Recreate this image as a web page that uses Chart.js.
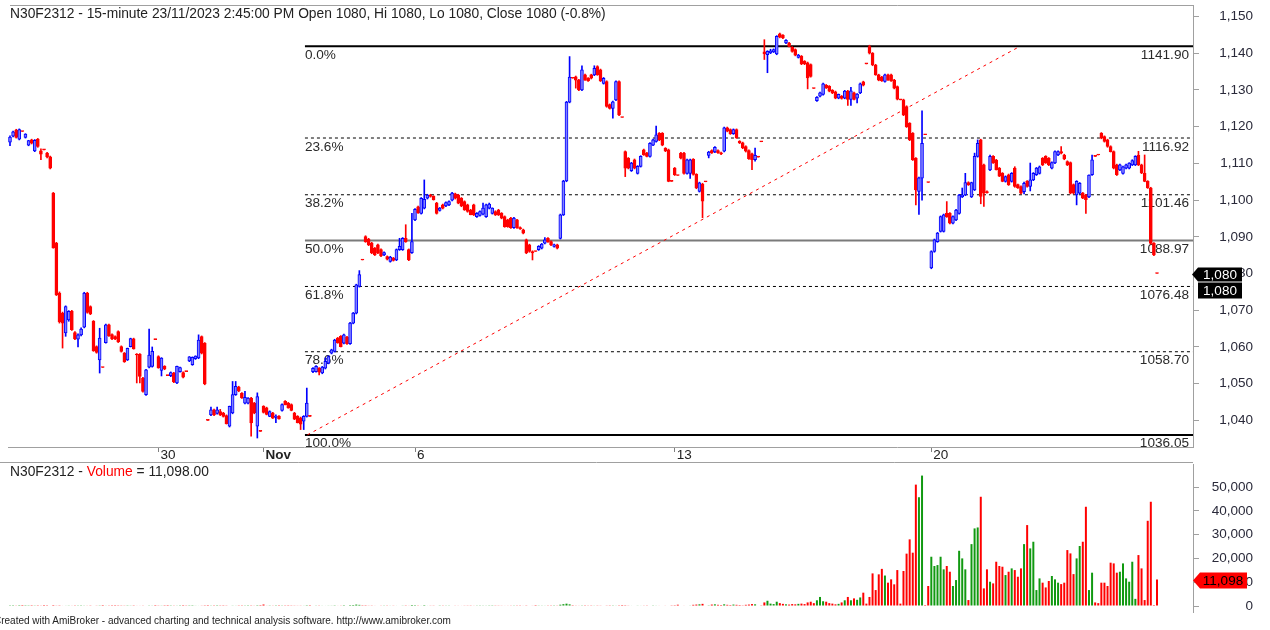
<!DOCTYPE html>
<html><head><meta charset="utf-8">
<script src="https://cdn.jsdelivr.net/npm/chart.js@4.4.1/dist/chart.umd.min.js"></script>
<style>
html,body{margin:0;padding:0;background:#fff;}
body{width:1270px;height:630px;position:relative;overflow:hidden;font-family:'Liberation Sans',Arial,sans-serif;}
.txt{position:absolute;white-space:nowrap;color:#222;font-size:13.8px;line-height:15px;z-index:2;}
#pw{position:absolute;left:0;top:0;width:1270px;height:463px;}
#vw{position:absolute;left:0;top:463px;width:1270px;height:167px;}
</style></head><body>
<div id="pw"><canvas id="pc" width="1270" height="463"></canvas></div>
<div id="vw"><canvas id="vc" width="1270" height="167"></canvas></div>
<div class="txt" style="left:10px;top:6px">N30F2312 - 15-minute 23/11/2023 2:45:00 PM Open 1080, Hi 1080, Lo 1080, Close 1080 (-0.8%)</div>
<div class="txt" style="left:10px;top:464px">N30F2312 - <span style="color:#ff0000">Volume</span> = 11,098.00</div>
<div class="txt" style="left:-6px;top:615px;font-size:10px;line-height:12px">Created with AmiBroker - advanced charting and technical analysis software. http://www.amibroker.com</div>
<script>
// ---------------- DATA ----------------
const open = [
1115.8,1117.4,1119.1,1116.6,1118.7,1117.1,1115.0,1116.4,1113.4,1116.6,1113.4,1113.7,1112.8,1111.8,
1101.9,1088.3,1074.7,1069.2,1063.8,1067.4,1069.7,1063.9,1062.1,1063.3,
1065.4,1074.7,1071.0,1067.0,1060.1,1056.5,1054.4,1061.2,1066.0,1063.4,
1062.8,1064.2,1060.1,1058.3,1056.5,1060.1,1062.2,1058.0,1058.0,1051.5,
1047.0,1054.5,1054.7,1062.0,1057.4,1053.6,1054.7,1052.2,1052.2,1052.9,
1050.2,1053.3,1053.0,1053.3,1056.2,1055.2,1056.8,1057.0,1062.8,1061.0,
1040.0,1041.5,1042.9,1041.9,1042.4,1042.0,1041.3,1038.4,1042.0,1047.0,
1049.1,1047.4,1044.7,1044.7,1046.1,1044.7,1038.4,1037.0,1043.8,1043.4,
1041.1,1042.0,1040.8,1041.2,1042.7,1045.2,1044.7,1044.3,1042.0,1041.1,
1040.7,1039.8,1041.1,1041.1,
1053.3,1053.3,1054.2,1052.9,1054.2,1055.6,1058.3,1058.8,1062.4,1062.9,
1061.0,1062.7,1060.9,1066.5,1069.2,1076.5,1083.7,1090.1,1089.4,1088.3,
1086.9,1087.8,1086.5,1085.1,1084.6,1083.3,1084.2,1083.7,1086.5,1086.5,
1089.6,1086.5,
1085.7,1094.6,1098.2,1096.4,1097.8,1100.5,1101.4,1101.0,1099.2,1097.2,
1098.7,1098.4,1098.7,1100.0,1101.7,1101.4,1100.5,1099.6,1098.7,1097.3,
1098.7,1095.5,1095.8,1096.2,1095.5,1097.8,1096.4,1096.9,1097.3,1096.4,
1095.5,1094.6,1095.1,1092.5,1094.6,1092.5,1091.9,1089.2,1087.8,1086.0,
1086.0,1086.5,1086.9,1088.3,1089.6,1088.7,1087.4,1087.8,1089.6,1096.0,
1105.2,1126.7,1133.2,1133.6,1132.7,1130.0,1134.1,1133.2,1134.1,1134.1,
1136.4,1135.5,1131.8,1132.3,1126.0,1125.0,1127.3,1132.3,1122.5,1113.2,
1111.4,1108.0,1111.0,1107.3,1109.2,1113.7,1112.8,1111.9,1115.0,1116.0,
1118.2,1118.2,1114.1,1113.7,1105.1,1108.7,1106.7,1112.8,1112.8,1107.3,
1107.3,
1111.1,1107.0,1102.4,1104.4,1105.0,1112.2,1113.5,1113.1,1113.5,1112.9,
1113.3,1119.7,1119.2,1118.1,1119.2,1116.0,1115.6,1114.6,1113.5,1112.6,
1111.0,1111.7,1115.9,1140.4,1139.6,1140.1,1140.4,1139.8,1145.3,1144.9,
1142.8,1142.8,1141.6,1141.0,1138.9,1139.2,1137.8,1137.4,1136.9,1130.4,
1127.1,1128.3,1128.8,1131.3,1131.0,1129.9,1129.5,1127.8,1128.3,1127.8,
1129.7,1127.4,1129.2,1127.8,1129.2,1132.2,1137.1,
1141.8,1140.0,1136.8,1134.1,1133.5,1132.3,1134.1,1134.1,1132.7,1130.9,
1127.3,1127.3,1125.5,1120.9,1118.2,1111.4,1102.4,1106.0,1117.8,1104.8,
1081.5,1086.0,1088.7,1091.5,1091.5,1096.4,1096.4,1093.7,1094.6,1096.4,
1100.9,1101.4,1104.8,1100.9,1102.8,1111.9,1116.4,1109.6,1102.3,1108.2,
1111.9,1110.9,1108.7,1107.3,1105.1,1106.9,1105.1,1108.7,1104.2,1103.7,
1102.3,1105.1,1103.7,1105.5,1106.9,1107.3,1111.4,1111.9,1111.4,1108.7,
1110.1,1112.3,1113.2,1112.3,1110.5,1110.2,1104.2,1101.4,1101.9,1101.9,
1101.4,1100.9,1106.9,1111.9,1112.3,1118.2,1117.3,1116.4,1114.6,1113.2,
1109.6,1108.2,1107.3,1108.7,1108.7,1109.6,1109.6,1112.3,1109.6,1107.3,
1105.1,1103.3,1088.2,1080.0];
const high = [
1117.5,1118.8,1119.3,1119.4,1118.7,1118.1,1116.3,1116.6,1116.5,1116.8,1114.0,1113.7,1113.0,1112.0,
1102.1,1088.5,1075.0,1069.5,1071.2,1069.9,1070.0,1064.2,1063.6,1065.2,
1074.9,1074.9,1071.2,1067.2,1060.3,1065.1,1054.4,1066.2,1066.2,1063.6,
1063.0,1064.4,1060.3,1058.5,1059.7,1062.4,1062.4,1058.2,1058.2,1051.7,
1053.9,1064.9,1060.0,1062.0,1057.6,1057.1,1054.9,1052.2,1053.2,1053.1,
1054.8,1054.5,1053.2,1053.3,1057.4,1057.3,1057.6,1063.3,1063.0,1061.2,
1040.0,1043.6,1043.1,1043.6,1043.0,1042.2,1041.5,1043.9,1050.6,1050.6,
1049.3,1047.6,1047.9,1046.2,1046.3,1044.9,1047.5,1037.0,1044.0,1043.6,
1042.6,1042.2,1041.5,1041.3,1044.5,1045.4,1044.9,1044.5,1042.2,1041.3,
1040.9,1041.3,1048.8,1041.1,
1054.4,1054.9,1054.4,1054.7,1057.0,1057.6,1059.4,1062.1,1062.6,1063.1,
1063.5,1062.9,1066.7,1069.4,1077.1,1080.8,1083.7,1090.3,1089.6,1088.5,
1087.1,1088.0,1086.7,1085.9,1084.8,1084.7,1084.4,1086.7,1089.6,1089.8,
1093.3,1086.7,
1096.4,1097.7,1098.4,1100.7,1105.5,1101.6,1101.6,1101.2,1099.4,1098.0,
1098.9,1099.5,1099.8,1102.1,1101.9,1101.6,1100.7,1099.8,1098.9,1097.5,
1098.9,1096.6,1097.1,1099.2,1098.9,1099.2,1097.9,1097.1,1097.5,1096.6,
1095.7,1094.8,1095.3,1095.3,1094.8,1092.7,1092.1,1089.4,1088.0,1086.2,
1086.0,1087.6,1088.2,1089.8,1089.8,1088.9,1088.0,1088.0,1096.2,1105.4,
1126.9,1139.1,1133.2,1133.8,1132.9,1136.6,1134.3,1133.4,1134.3,1136.6,
1136.6,1135.7,1133.4,1132.5,1126.2,1127.0,1132.5,1132.5,1122.5,1113.4,
1111.6,1110.3,1111.2,1109.4,1112.1,1113.9,1113.0,1115.7,1116.6,1120.2,
1118.4,1118.4,1114.3,1113.9,1105.1,1108.9,1106.7,1113.0,1113.0,1111.2,
1111.2,
1111.3,1107.2,1104.9,1104.6,1105.0,1113.3,1113.7,1114.6,1113.7,1113.1,
1119.9,1119.9,1119.4,1119.4,1119.4,1116.2,1115.8,1114.8,1113.7,1112.8,
1114.2,1111.7,1115.9,1143.7,1140.7,1141.1,1141.2,1144.8,1145.5,1145.1,
1143.7,1143.0,1141.8,1141.2,1139.7,1139.4,1138.0,1137.6,1137.1,1130.4,
1128.2,1129.4,1131.9,1131.5,1131.2,1130.1,1129.7,1128.9,1128.5,1129.9,
1129.9,1130.7,1129.4,1129.0,1131.9,1132.4,1137.1,
1142.2,1140.2,1137.0,1134.3,1133.7,1134.3,1134.3,1134.3,1132.9,1131.1,
1127.3,1127.5,1125.7,1121.1,1118.4,1111.6,1106.3,1124.3,1117.8,1104.8,
1086.2,1089.4,1091.2,1095.7,1096.2,1099.6,1096.6,1095.7,1097.5,1101.6,
1103.3,1107.3,1105.0,1104.9,1112.8,1116.4,1116.6,1109.8,1102.5,1112.3,
1112.1,1111.1,1108.9,1107.5,1106.6,1107.1,1107.5,1109.1,1104.4,1103.9,
1104.9,1105.3,1110.1,1107.5,1108.9,1109.3,1111.6,1112.1,1111.6,1110.4,
1113.4,1113.4,1114.6,1112.5,1110.7,1110.4,1104.4,1105.3,1104.8,1102.1,
1101.6,1106.9,1112.3,1111.9,1112.3,1118.4,1117.5,1116.6,1114.8,1113.4,
1109.8,1109.8,1109.3,1109.8,1110.2,1111.0,1112.1,1113.3,1109.8,1112.3,
1105.3,1103.5,1088.4,1080.0];
const low = [
1114.8,1117.2,1116.9,1116.4,1118.7,1116.9,1114.8,1115.3,1113.2,1114.4,1111.0,1113.7,1111.5,1108.5,
1086.9,1074.0,1066.5,1059.7,1062.9,1067.0,1064.5,1062.0,1060.0,1063.0,
1065.2,1069.2,1068.8,1058.8,1058.3,1052.9,1054.4,1061.0,1062.9,1062.0,
1062.0,1061.2,1058.6,1055.8,1056.3,1060.0,1059.4,1050.2,1050.2,1047.7,
1046.8,1054.3,1054.5,1062.0,1054.2,1052.1,1053.8,1052.2,1051.9,1050.3,
1050.0,1053.1,1051.6,1053.3,1056.0,1055.0,1056.6,1056.8,1058.1,1049.7,
1040.0,1041.3,1041.3,1041.7,1041.3,1040.9,1039.0,1038.2,1041.8,1046.8,
1047.8,1046.0,1044.5,1044.5,1035.7,1041.8,1035.2,1037.0,1042.0,1041.5,
1041.0,1040.5,1039.4,1040.3,1042.5,1044.2,1043.3,1042.6,1040.2,1039.3,
1037.5,1037.5,1040.9,1041.1,
1053.0,1053.1,1052.4,1052.7,1054.0,1055.4,1058.1,1058.6,1061.0,1060.0,
1060.8,1060.7,1060.7,1066.3,1069.0,1076.3,1083.7,1088.5,1087.6,1085.4,
1084.9,1085.4,1084.6,1084.9,1083.7,1083.1,1083.4,1083.5,1086.3,1086.3,
1088.5,1083.5,
1085.5,1094.4,1096.4,1096.2,1097.6,1100.3,1100.8,1100.0,1096.2,1097.0,
1097.6,1098.2,1098.5,1099.8,1100.3,1099.0,1098.2,1097.2,1096.7,1096.0,
1095.8,1095.3,1095.6,1096.0,1095.3,1097.6,1096.2,1095.8,1095.8,1094.9,
1092.6,1092.6,1092.3,1092.3,1092.3,1092.0,1090.8,1085.4,1085.8,1083.7,
1086.0,1086.3,1086.7,1088.1,1088.5,1087.6,1087.2,1086.7,1089.4,1095.8,
1105.0,1126.5,1133.2,1130.5,1129.8,1129.8,1132.6,1132.3,1133.0,1133.9,
1134.0,1132.3,1131.6,1125.3,1124.8,1122.3,1127.1,1123.0,1122.5,1106.4,
1108.5,1107.8,1108.5,1107.1,1109.0,1112.2,1111.8,1111.7,1114.8,1115.8,
1116.2,1114.8,1113.2,1105.0,1105.1,1106.7,1106.7,1111.2,1107.1,1107.1,
1105.9,
1106.8,1103.1,1102.2,1095.2,1105.0,1111.5,1112.7,1112.9,1112.7,1112.4,
1113.1,1118.6,1117.9,1117.9,1116.8,1115.4,1114.0,1113.1,1111.1,1108.3,
1110.6,1111.7,1115.9,1138.3,1134.7,1139.9,1140.2,1139.6,1144.2,1144.0,
1142.6,1141.7,1140.3,1139.3,1138.7,1136.9,1136.9,1130.3,1133.5,1130.4,
1126.9,1128.1,1128.6,1130.4,1129.5,1129.0,1127.6,1127.6,1127.5,1127.6,
1125.8,1125.8,1127.3,1126.5,1129.0,1131.1,1137.1,
1139.8,1136.6,1134.0,1132.5,1132.3,1132.1,1132.6,1132.3,1130.3,1127.3,
1127.3,1123.0,1119.8,1116.2,1110.8,1098.7,1096.1,1100.0,1117.8,1104.8,
1081.3,1085.8,1088.5,1091.3,1091.3,1095.3,1093.5,1093.5,1094.4,1096.2,
1100.7,1101.2,1104.0,1100.7,1102.6,1111.7,1099.0,1098.3,1101.9,1108.0,
1110.0,1108.2,1106.4,1105.0,1104.9,1104.0,1104.9,1103.5,1103.2,1101.7,
1101.7,1103.5,1102.5,1105.3,1106.7,1107.1,1109.4,1110.0,1109.4,1108.5,
1109.9,1112.1,1112.6,1111.0,1109.4,1101.7,1101.7,1098.7,1101.7,1100.4,
1096.4,1100.7,1106.7,1111.9,1112.3,1116.7,1115.8,1114.4,1113.1,1108.5,
1106.7,1108.0,1107.1,1108.5,1108.5,1109.4,1109.4,1109.4,1107.2,1105.0,
1103.2,1088.0,1084.9,1080.0];
const close = [
1117.2,1118.6,1117.1,1119.2,1118.7,1118.0,1116.2,1115.5,1116.3,1114.6,1112.5,1113.7,1111.8,1108.7,
1087.0,1074.2,1066.8,1066.5,1071.0,1069.7,1064.7,1062.2,1063.3,1064.9,
1074.7,1069.4,1069.0,1059.0,1058.5,1062.4,1054.4,1066.0,1063.1,1062.2,
1062.2,1061.4,1058.8,1056.0,1059.6,1062.3,1059.5,1057.8,1052.0,1047.9,
1053.8,1057.8,1058.8,1062.0,1054.3,1057.0,1054.0,1052.2,1053.0,1050.5,
1054.7,1054.4,1051.8,1053.3,1057.3,1057.2,1057.5,1061.9,1058.3,1049.9,
1040.0,1042.9,1041.5,1042.9,1041.5,1041.1,1039.1,1043.8,1047.0,1049.3,
1048.0,1046.1,1046.3,1046.1,1039.3,1042.0,1046.5,1037.0,1042.2,1041.6,
1042.4,1040.6,1041.2,1040.4,1044.3,1044.3,1043.4,1042.7,1040.3,1039.4,
1039.0,1041.1,1044.7,1041.1,
1054.2,1054.7,1053.1,1054.5,1056.1,1057.4,1059.2,1061.9,1061.2,1060.1,
1063.3,1060.9,1066.5,1069.2,1076.9,1079.7,1083.7,1088.7,1087.8,1085.6,
1085.1,1085.6,1084.8,1085.7,1083.9,1084.5,1083.6,1086.5,1087.4,1089.6,
1088.7,1083.7,
1088.7,1097.5,1096.6,1100.5,1100.2,1101.4,1101.0,1100.1,1096.4,1097.8,
1097.8,1099.3,1099.6,1101.9,1100.5,1099.2,1098.4,1097.3,1096.9,1096.0,
1096.0,1096.4,1096.9,1097.8,1098.7,1098.9,1097.8,1096.0,1096.0,1095.1,
1092.8,1092.8,1092.5,1095.1,1092.5,1092.2,1091.0,1085.6,1086.0,1085.6,
1086.0,1087.4,1088.0,1089.2,1088.7,1087.8,1087.8,1086.9,1096.0,1105.2,
1126.7,1133.5,1133.2,1132.7,1130.0,1135.5,1132.7,1132.5,1133.2,1135.9,
1134.1,1132.5,1133.2,1125.5,1125.0,1126.8,1132.3,1123.2,1122.5,1108.7,
1108.7,1110.1,1108.7,1109.2,1111.9,1112.3,1111.9,1115.5,1116.4,1117.8,
1116.4,1115.0,1113.4,1105.1,1105.1,1106.9,1106.7,1111.4,1107.3,1111.0,
1111.0,
1107.0,1103.3,1104.7,1099.7,1105.0,1113.1,1112.9,1114.4,1112.9,1112.6,
1119.7,1118.8,1118.1,1119.2,1117.0,1115.6,1114.2,1113.3,1111.3,1111.0,
1112.2,1111.7,1115.9,1139.8,1140.5,1140.7,1141.0,1144.6,1144.4,1144.2,
1143.5,1141.9,1140.5,1139.5,1139.5,1137.1,1137.1,1133.3,1133.7,1130.4,
1128.0,1129.2,1131.7,1130.6,1129.7,1129.2,1127.8,1128.8,1127.7,1129.7,
1127.4,1129.8,1127.4,1128.9,1131.7,1131.3,1137.1,
1140.0,1136.8,1134.1,1132.7,1132.5,1134.1,1132.7,1132.5,1130.5,1127.5,
1127.3,1123.2,1120.0,1116.4,1111.0,1102.8,1106.1,1115.5,1117.8,1104.8,
1086.0,1089.2,1091.0,1095.5,1096.0,1095.5,1093.7,1095.5,1097.3,1101.4,
1101.4,1104.8,1104.2,1104.8,1111.9,1115.5,1101.0,1101.9,1102.0,1111.9,
1110.1,1108.3,1106.5,1105.1,1106.4,1104.2,1107.3,1103.7,1103.3,1101.9,
1104.6,1103.7,1105.5,1107.3,1108.7,1109.1,1109.6,1110.1,1109.6,1110.2,
1113.2,1113.2,1112.8,1111.2,1109.6,1101.9,1101.9,1105.1,1104.6,1100.5,
1100.1,1106.8,1111.0,1111.9,1112.3,1116.9,1116.0,1114.6,1113.2,1108.7,
1106.9,1109.6,1109.1,1109.6,1110.1,1110.8,1111.9,1109.6,1107.4,1105.1,
1103.3,1088.2,1085.1,1080.0];
const volume = [
120,80,150,60,30,90,110,70,140,100,160,40,90,210,
380,260,310,190,240,150,180,120,140,110,260,170,130,220,160,290,40,180,140,90,
70,110,130,150,120,160,110,230,190,260,210,280,170,50,140,160,90,60,120,150,
170,110,60,130,110,90,180,230,160,320,
60,150,110,90,120,100,140,210,260,180,120,110,140,100,300,170,340,50,620,180,
130,160,110,90,140,120,100,130,150,170,160,240,330,70,
210,160,140,180,230,170,250,310,190,160,350,210,380,420,590,480,90,330,260,280,
190,220,170,150,140,180,160,230,210,260,300,240,
420,360,280,230,380,190,160,150,220,130,140,160,150,210,170,180,190,160,150,140,
180,150,140,160,170,130,120,140,150,170,230,180,160,150,140,130,190,290,200,180,
60,150,160,180,140,130,120,150,540,760,980,690,80,160,180,140,110,150,130,170,
140,160,210,150,120,290,180,110,380,90,260,190,210,170,230,160,140,200,280,240,
190,200,180,220,300,80,540,210,230,200,250,
500,600,700,900,200,300,600,700,500,
400,700,500,400,600,500,400,300,500,600,
800,700,200,300,1500,2200,1000,800,1800,1200,
900,700,600,800,700,900,1000,800,1500,1800,
1200,2400,3800,2000,1800,1200,1000,700,900,1500,
2400,3800,2400,3200,2600,3600,5600,1000,
3800,13700,6700,13300,15600,12800,9800,11200,9100,15100,
1000,14700,22000,28000,22400,51000,45700,54800,400,8400,
20700,16800,17200,20700,15400,16800,14400,8400,10900,23200,
20000,15400,2500,26000,32600,33000,45900,7400,15400,10200,
9500,18600,16800,16500,13000,14400,15800,15100,12300,15800,
26000,34000,24200,27000,6700,11600,9800,7800,10500,12600,
11200,9800,9200,9800,23500,22100,13400,20000,25200,27000,
41700,6700,14000,1500,1200,9800,9800,8400,18200,17900,
14000,14400,17900,11600,10200,18600,3000,21400,15800,2500,
35800,43800,400,11098];
// date labels (bar index where each labelled day starts)
const tickIdx = [48, 82, 131, 215, 298];
const tickLabels = ['30', 'Nov', '6', '13', '20'];
// Fibonacci retracement study
const fibPct = [0, 23.6, 38.2, 50, 61.8, 78.6, 100];
const fibVal = [1141.90, 1116.92, 1101.46, 1088.97, 1076.48, 1058.70, 1036.05];
const fibStartIdx = 95.4;
const trendIdx = [96.2, 326.7];
const trendVal = [1036.05, 1141.90];
const priceTicks = [1040,1050,1060,1070,1080,1090,1100,1110,1120,1130,1140,1150];
const volTicks = [0,10000,20000,30000,40000,50000];

// ---------------- LAYOUT ----------------
const N = close.length;
const FONT = "'Liberation Sans', Arial, sans-serif";
Chart.defaults.font.family = FONT;
Chart.defaults.font.size = 13.5;
Chart.defaults.color = '#222';
const PLOT_L = 8, PLOT_R = 1193, FIRST_PX = 10, LAST_PX = 1157;
const pxPer = (LAST_PX - FIRST_PX) / (N - 1);
const xMin = -(FIRST_PX - PLOT_L) / pxPer;
const xMax = xMin + (PLOT_R - PLOT_L) / pxPer;
const idx = close.map((_, i) => i);
const up = i => close[i] > open[i];
const fmt = v => Number(v).toLocaleString('en-US');
const GREY = '#a0a0a0';

function yAxisFix(s){ s.width = 60; s.paddingTop = 0; s.paddingBottom = 0; }

const datasets = [
  { type:'bar', label:'body', order:0, grouped:false, barThickness:3, minBarLength:1,
    data: idx.map(i => ({x:i, y:[open[i], close[i]]})),
    backgroundColor: idx.map(i => up(i) ? '#8080ff' : '#ff0000'),
    borderColor: idx.map(i => up(i) ? '#0000ff' : '#ff0000'),
    borderWidth: 1, borderSkipped: false },
  { type:'bar', label:'wick', order:1, grouped:false, barThickness:1,
    data: idx.map(i => ({x:i, y:[low[i], high[i]]})),
    backgroundColor: idx.map(i => up(i) ? '#0000ff' : '#ff0000'),
    borderWidth: 0 },
  { type:'line', label:'trend', order:4, data: trendIdx.map((x,k)=>({x, y:trendVal[k]})),
    borderColor:'#ff0000', borderWidth:1, borderDash:[3,4], pointRadius:0, tension:0 }
];
fibPct.forEach((p, k) => {
  const solid = (p === 0 || p === 100);
  const mid = (p === 50);
  datasets.push({ type:'line', label:'fib'+p, order:5,
    data:[{x:fibStartIdx, y:fibVal[k]}, {x:xMax, y:fibVal[k]}],
    borderColor: mid ? '#7a7a7a' : '#000000',
    borderWidth: (solid || mid) ? 2 : 1,
    borderDash: (solid || mid) ? [] : [3,3],
    pointRadius:0, tension:0 });
});

const pricePlugin = {
  id:'pricePlugin',
  beforeDatasetsDraw(chart){
    const {ctx, chartArea:a, scales:{x, y}} = chart;
    ctx.save();
    ctx.font = '13.6px ' + FONT;
    ctx.fillStyle = '#2a2a2a';
    ctx.textBaseline = 'top';
    const xl = x.getPixelForValue(fibStartIdx);
    fibPct.forEach((p, k) => {
      const yy = y.getPixelForValue(fibVal[k]);
      ctx.textAlign = 'left';
      ctx.fillText(p.toFixed(1) + '%', xl, yy + 2);
      ctx.textAlign = 'right';
      ctx.fillText(fibVal[k].toFixed(2), a.right - 4, yy + 2);
    });
    ctx.restore();
  },
  afterDraw(chart){
    const {ctx, chartArea:a, scales:{y}} = chart;
    ctx.save();
    ctx.strokeStyle = GREY; ctx.lineWidth = 1;
    ctx.beginPath();
    ctx.moveTo(a.left + 2, a.top + 0.5); ctx.lineTo(a.right, a.top + 0.5);
    ctx.moveTo(0, chart.height - 0.5); ctx.lineTo(a.right, chart.height - 0.5);
    ctx.stroke();
    // last price tag
    const yy = Math.round(y.getPixelForValue(close[N-1])) + 0.5;
    const r = a.right;
    ctx.fillStyle = '#000';
    ctx.beginPath();
    ctx.moveTo(r - 1, yy); ctx.lineTo(r + 5, yy - 7); ctx.lineTo(r + 49, yy - 7);
    ctx.lineTo(r + 49, yy + 7); ctx.lineTo(r + 5, yy + 7); ctx.closePath(); ctx.fill();
    ctx.fillRect(r + 5, yy + 8, 44, 16);
    ctx.fillStyle = '#fff';
    ctx.font = '13.5px ' + FONT;
    ctx.textAlign = 'center'; ctx.textBaseline = 'middle';
    ctx.fillText(fmt(close[N-1]), r + 27, yy + 0.5);
    ctx.fillText(fmt(close[N-1]), r + 27, yy + 16.5);
    ctx.restore();
  }
};

new Chart(document.getElementById('pc'), {
  type:'bar',
  data:{ datasets },
  options:{
    responsive:false, animation:false, devicePixelRatio:1,
    layout:{ padding:{ left:PLOT_L, right:17, top:5, bottom:0 } },
    plugins:{ legend:{display:false}, tooltip:{enabled:false} },
    events:[],
    scales:{
      x:{ type:'linear', min:xMin, max:xMax, offset:false,
          afterBuildTicks: s => { s.ticks = tickIdx.map(v => ({value:v})); },
          afterFit: s => { s.height = 16; s.paddingLeft = 0; s.paddingRight = 0; },
          grid:{ offset:false, drawOnChartArea:false, drawTicks:true, tickLength:5, color:'#808080' },
          border:{ display:true, color:GREY },
          ticks:{ autoSkip:false, maxRotation:0, align:'start', padding:-5, labelOffset:2, color:'#222',
                  callback: v => tickLabels[tickIdx.indexOf(v)] ?? '',
                  font: c => ({ family:FONT, size:13.5, weight: (c.tick && tickLabels[tickIdx.indexOf(c.tick.value)] === 'Nov') ? 'bold' : 'normal' }) } },
      y:{ type:'linear', position:'right', min:1032.75, max:1153.15,
          afterBuildTicks: s => { s.ticks = priceTicks.map(v => ({value:v})); },
          afterFit: yAxisFix,
          grid:{ drawOnChartArea:false, drawTicks:true, tickLength:6, color:GREY },
          border:{ display:true, color:GREY },
          ticks:{ crossAlign:'far', color:'#2a2a3a', callback: v => fmt(v) } }
    }
  },
  plugins:[pricePlugin]
});

const volPlugin = {
  id:'volPlugin',
  afterDraw(chart){
    const {ctx, chartArea:a, scales:{y}} = chart;
    const yy = Math.round(y.getPixelForValue(volume[N-1])) + 0.5;
    const r = a.right;
    ctx.save();
    ctx.fillStyle = '#ff0000';
    ctx.beginPath();
    ctx.moveTo(r, yy); ctx.lineTo(r + 7, yy - 8); ctx.lineTo(r + 54, yy - 8);
    ctx.lineTo(r + 54, yy + 8); ctx.lineTo(r + 7, yy + 8); ctx.closePath(); ctx.fill();
    ctx.fillStyle = '#000';
    ctx.font = '13.5px ' + FONT;
    ctx.textAlign = 'center'; ctx.textBaseline = 'middle';
    ctx.fillText(fmt(volume[N-1]), r + 30, yy + 0.5);
    ctx.restore();
  }
};

new Chart(document.getElementById('vc'), {
  type:'bar',
  data:{ datasets:[{ label:'Volume', barThickness:2, inflateAmount:0,
    data: idx.map(i => ({x:i, y:volume[i]})),
    backgroundColor: idx.map(i => up(i) ? '#119911' : '#ff0000'),
    borderWidth:0 }] },
  options:{
    responsive:false, animation:false, devicePixelRatio:1,
    layout:{ padding:{ left:PLOT_L, right:17, top:1, bottom:18 } },
    plugins:{ legend:{display:false}, tooltip:{enabled:false} },
    events:[],
    scales:{
      x:{ type:'linear', min:xMin, max:xMax, offset:false, display:false },
      y:{ type:'linear', position:'right', min:-2521, max:59664,
          afterBuildTicks: s => { s.ticks = volTicks.map(v => ({value:v})); },
          afterFit: yAxisFix,
          grid:{ drawOnChartArea:false, drawTicks:true, tickLength:6, color:GREY },
          border:{ display:true, color:GREY },
          ticks:{ crossAlign:'far', color:'#2a2a3a', callback: v => fmt(v) } }
    }
  },
  plugins:[volPlugin]
});
</script>
</body></html>
